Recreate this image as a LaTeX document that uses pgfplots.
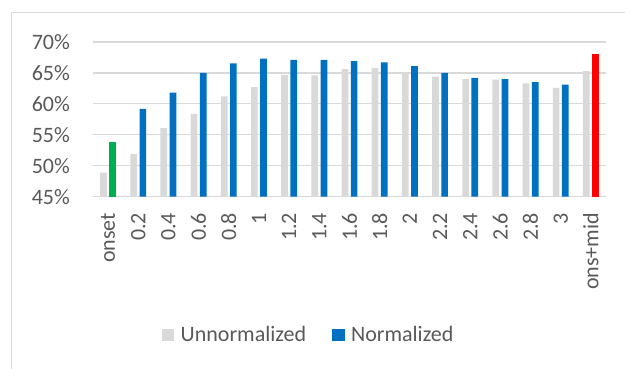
\documentclass[border=0pt]{standalone}
\usepackage{pgfplots}
\pgfplotsset{compat=1.18}
\usepackage{fontspec}
\setmainfont{Carlito}
\definecolor{txtgray}{HTML}{595959}
\definecolor{gridgray}{HTML}{D9D9D9}
\definecolor{unnorm}{HTML}{D9D9D9}
\definecolor{norm}{HTML}{0070C0}
\definecolor{mygreen}{HTML}{00B050}
\definecolor{myred}{HTML}{FF0000}
\newcommand\chartfont{\fontsize{22bp}{26bp}\selectfont}
\begin{document}
\begin{tikzpicture}
\useasboundingbox (0,0) rectangle (625bp,369bp);
\draw[gridgray, line width=1bp] (11.5bp,0) -- (11.5bp,356.5bp) -- (625bp,356.5bp);
\begin{axis}[
  at={(93bp,172.3bp)}, anchor=south west,
  scale only axis, width=513bp, height=154.7bp,
  xmin=-0.5, xmax=16.5, ymin=45, ymax=70,
  axis line style={draw=none},
  major tick length=0pt,
  ymajorgrids, major grid style={gridgray, line width=1.2bp},
  ytick={45,50,55,60,65,70},
  yticklabels={45\%,50\%,55\%,60\%,65\%,70\%},
  xtick={0,...,16},
  xticklabels={onset,0.2,0.4,0.6,0.8,1,1.2,1.4,1.6,1.8,2,2.2,2.4,2.6,2.8,3,ons+mid},
  every tick label/.append style={font=\chartfont, text=txtgray},
  yticklabel style={anchor=east, inner sep=0pt},
  yticklabel shift=23bp,
  xticklabel style={rotate=90, anchor=east, inner sep=0pt},
  xticklabel shift=16bp,
  legend style={at={(axis description cs:0.1339,-0.894)}, anchor=west,
    draw=none, fill=none, inner sep=0pt, outer sep=0pt,
    font=\chartfont, text=txtgray,
    nodes={inner sep=0pt},
    /tikz/every odd column/.append style={column sep=6.4bp},
    /tikz/every even column/.append style={column sep=26bp}},
  legend columns=2,
  legend image code/.code={\fill[#1] (0bp,-6.3bp) rectangle (12.6bp,6.3bp);},
]
\addplot[ybar, bar width=6.7bp, bar shift=-4.6bp, fill=unnorm, draw=none] coordinates {
 (0,48.9) (1,51.9) (2,56.1) (3,58.4) (4,61.2) (5,62.7) (6,64.7) (7,64.6) (8,65.6)
 (9,65.8) (10,65.15) (11,64.4) (12,64.0) (13,63.9) (14,63.3) (15,62.6) (16,65.3)};
\addlegendentry{Unnormalized}
\addplot[ybar, bar width=6.7bp, bar shift=4.6bp, fill=norm, draw=none] coordinates {
 (1,59.2) (2,61.8) (3,65.0) (4,66.55) (5,67.3) (6,67.1) (7,67.1) (8,66.9)
 (9,66.7) (10,66.1) (11,65.0) (12,64.2) (13,64.0) (14,63.5) (15,63.1)};
\addlegendentry{Normalized}
\addplot[ybar, bar width=6.7bp, bar shift=4.6bp, fill=mygreen, draw=none, forget plot] coordinates {(0,53.8)};
\addplot[ybar, bar width=6.7bp, bar shift=4.6bp, fill=myred, draw=none, forget plot] coordinates {(16,68.1)};
\end{axis}
\end{tikzpicture}
\end{document}
